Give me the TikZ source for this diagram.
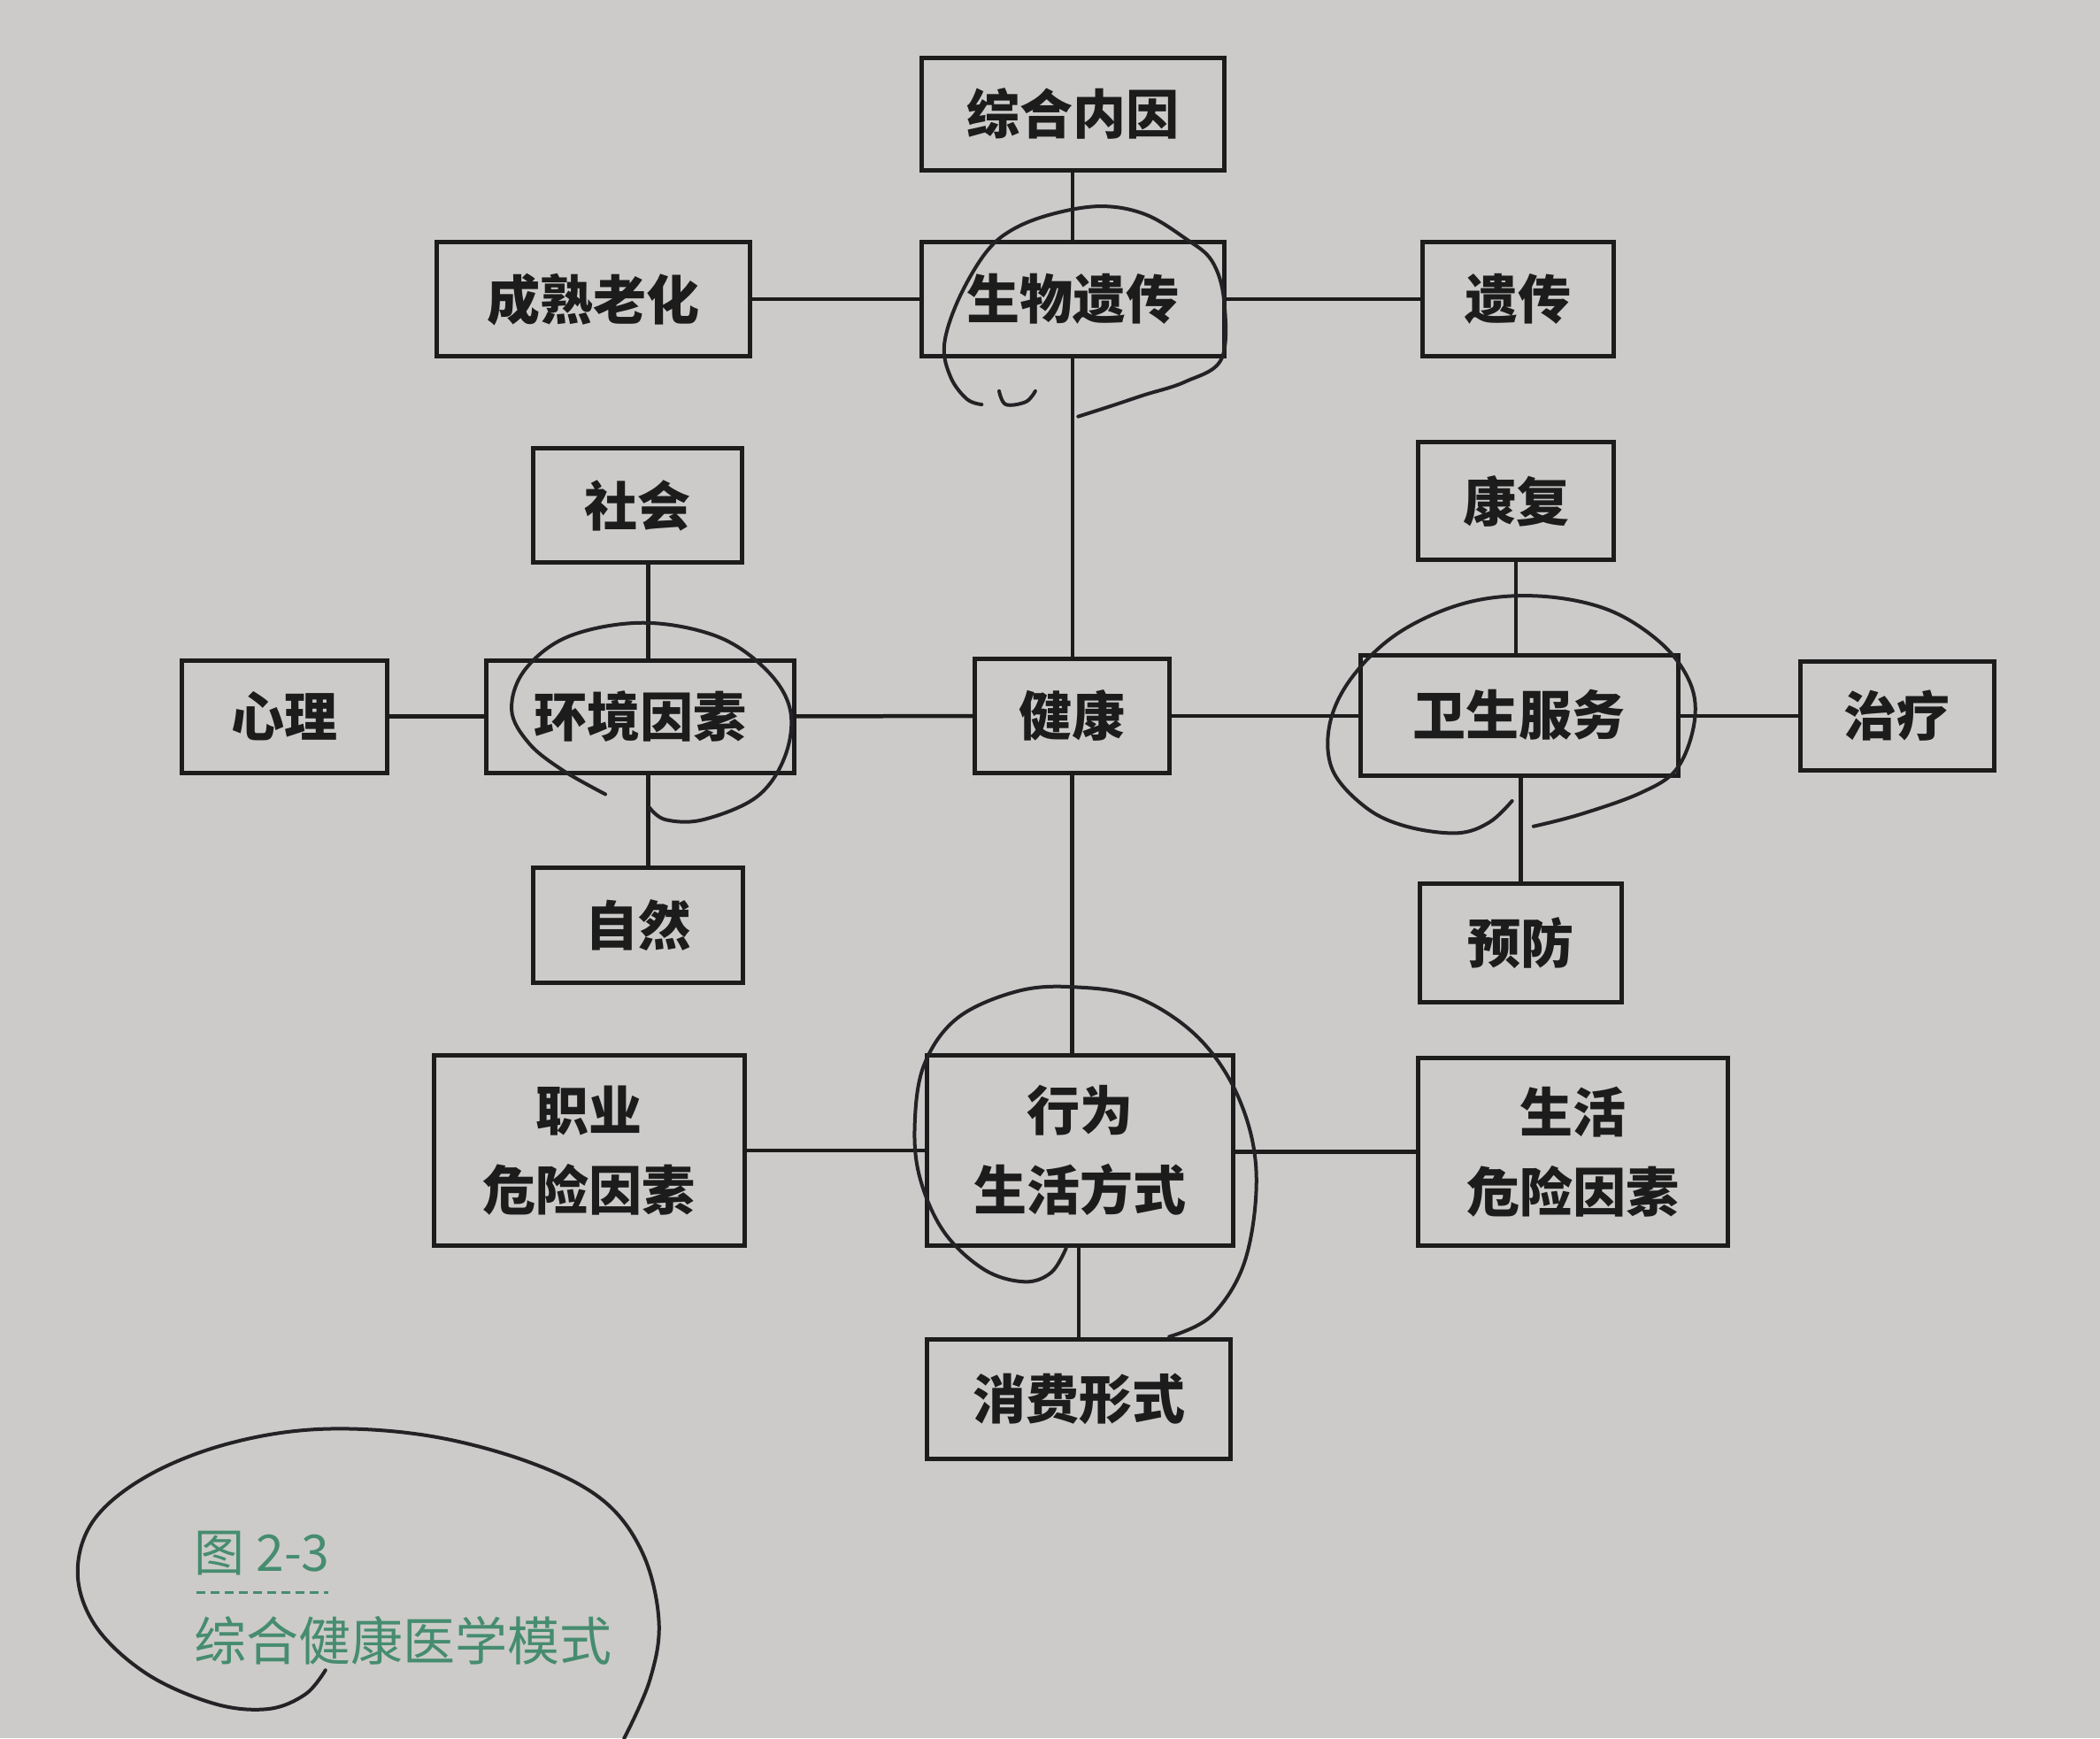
\documentclass[tikz,border=0pt]{standalone}
\usepackage{fontspec}
\newfontfamily\cjk{Noto Sans CJK SC}
\usetikzlibrary{calc}
\definecolor{paper}{RGB}{204,203,201}
\definecolor{ink}{RGB}{28,28,28}
\definecolor{pen}{RGB}{35,35,38}
\definecolor{capgreen}{RGB}{70,140,112}
\tikzset{
  boxst/.style={draw=ink, line width=5pt, inner sep=0pt, align=center, text=ink,
    font=\cjk\bfseries\fontsize{60pt}{90pt}\selectfont},
  link/.style={draw=ink, line width=4.5pt},
  penline/.style={draw=pen, line width=4pt, line cap=round, line join=round},
  capst/.style={text=capgreen, inner sep=0pt, anchor=west},
}
\newcommand\bx[6]{\node[boxst, minimum width={(#4-#2)*1.5134pt}, minimum height={(#5-#3)*1.5134pt}] (#1) at ({(#2+#4)/2},{(#3+#5)/2}) {#6};}
\begin{document}
\begin{tikzpicture}[x=1.5134pt,y=-1.5134pt]
\fill[paper] (0,0) rectangle (1568,1298);
\useasboundingbox (0,0) rectangle (1568,1298);
% boxes
\bx{zhnei}{688}{43}{914}{127}{综合内因}
\bx{swyc}{688}{181}{914}{266}{生物遗传}
\bx{cslh}{326}{181}{560}{266}{成熟老化}
\bx{yc}{1062}{181}{1205}{266}{遗传}
\bx{sh}{398}{335}{554}{420}{社会}
\bx{kf}{1059}{330}{1205}{418}{康复}
\bx{xl}{136}{493}{289}{577}{心理}
\bx{hj}{363}{493}{593}{577}{环境因素}
\bx{jk}{728}{492}{873}{577}{健康}
\bx{ws}{1016}{489}{1253}{579}{卫生服务}
\bx{zl}{1344}{494}{1489}{575}{治疗}
\bx{zr}{398}{648}{555}{734}{自然}
\bx{yf}{1060}{660}{1211}{748}{预防}
\bx{zy}{324}{788}{556}{930}{职业\\危险因素}
\bx{xw}{692}{788}{921}{930}{行为\\生活方式}
\bx{shwx}{1059}{790}{1290}{930}{生活\\危险因素}
\bx{xf}{692}{1000}{919}{1089}{消费形式}
% connectors
\draw[link] (zhnei.south) -- (zhnei.south |- swyc.north);
\draw[link] (swyc.south) -- (swyc.south |- jk.north);
\draw[link] (jk.south) -- (jk.south |- xw.north);
\draw[link] (xf.north |- xw.south) -- (xf.north);
\draw[link] (cslh) -- (swyc);
\draw[link] (swyc) -- (yc);
\coordinate (hjt) at ($(hj.north)+(6,0)$);
\coordinate (hjb) at ($(hj.south)+(6,0)$);
\draw[link] (hjt |- sh.south) -- (hjt);
\draw[link] (hjb) -- (hjb |- zr.north);
\draw[link] (xl) -- (hj);
\draw[link] (hj) -- (jk);
\draw[link] (jk.east) -- (jk.east -| ws.west);
\draw[link] (zl.west -| ws.east) -- (zl.west);
\draw[link] (kf.south) -- (kf.south |- ws.north);
\draw[link] (yf.north |- ws.south) -- (yf.north);
\draw[link] (zy) -- (xw);
\draw[link] (xw.east |- shwx.west) -- (shwx.west);
% handwritten pen marks
\draw[penline] plot[smooth, tension=0.6] coordinates {(805,311) (830,303) (854,295) (885,285) (912,268) (914,225) (905,195) (885,178) (855,160) (822,154) (785,160) (755,172) (735,190) (715,225) (705,258) (710,282) (722,298) (733,302)};
\draw[penline] plot[smooth, tension=0.6] coordinates {(746,292) (751,302) (766,300) (773,292)};
\draw[penline] plot[smooth, tension=0.6] coordinates {(452,593) (420,575) (395,555) (382,530) (392,500) (425,475) (480,465) (535,475) (572,500) (590,530) (586,565) (565,595) (525,612) (497,612) (485,603)};
\draw[penline] plot[smooth, tension=0.6] coordinates {(1129,598) (1112,614) (1088,622) (1050,617) (1020,603) (995,575) (993,540) (1010,505) (1045,472) (1095,450) (1148,445) (1200,455) (1240,480) (1262,510) (1265,540) (1252,574) (1225,592) (1180,608) (1145,617)};
\draw[penline] plot[smooth, tension=0.6] coordinates {(796,932) (785,950) (765,957) (735,948) (705,920) (687,880) (683,840) (690,795) (715,760) (760,740) (803,737) (850,745) (895,775) (925,820) (938,875) (930,940) (905,982) (873,998)};
\draw[penline] plot[smooth, tension=0.6] coordinates {(243,1247) (228,1265) (200,1276) (160,1272) (110,1250) (72,1215) (58,1175) (70,1135) (110,1102) (170,1078) (240,1067) (320,1072) (396,1092) (450,1120) (480,1160) (492,1211) (485,1255) (466,1298)};
% caption
\node[capst, font=\cjk\fontsize{57pt}{66pt}\selectfont] (fig) at (145,1160) {图 2-3};
\node[capst, font=\cjk\fontsize{59pt}{70pt}\selectfont] (title) at (145,1225) {综合健康医学模式};
\coordinate (dl) at (147,1189);
\coordinate (dr) at (245,1189);
\draw[capgreen, line width=3pt, dash pattern=on 10pt off 6pt] (dl) -- (dr);
\end{tikzpicture}
\end{document}
